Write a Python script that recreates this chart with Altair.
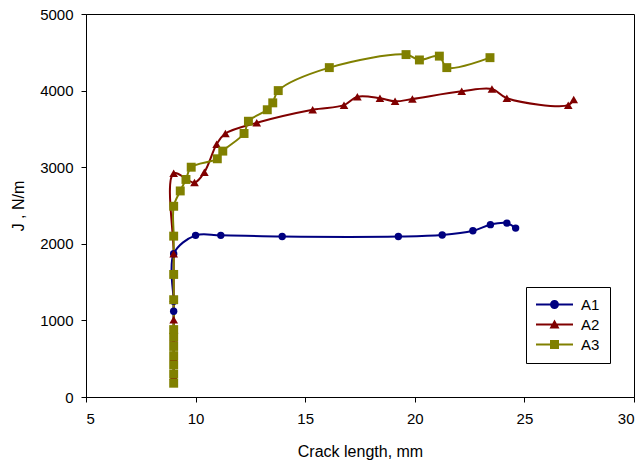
import altair as alt
import pandas as pd

# Crack growth resistance curves, J versus crack length
a1_x = [9.0, 9.0, 9.0, 9.0, 9.0, 10.0, 11.15, 13.95, 19.25, 21.25, 22.65, 23.45, 24.2, 24.6]
a1_y = [180, 880, 1120, 1250, 1870, 2110, 2110, 2095, 2095, 2115, 2170, 2250, 2270, 2205]

a2_x = [9.0, 9.0, 9.0, 9.0, 9.0, 9.0, 9.0, 9.95, 10.4, 10.96, 11.36, 12.79, 15.34, 16.77,
        17.38, 18.41, 19.1, 19.89, 22.14, 23.52, 24.2, 27.0, 27.25]
a2_y = [270, 520, 770, 1010, 1290, 1870, 2920, 2800, 2935, 3300, 3440, 3580, 3750, 3810,
        3920, 3900, 3860, 3890, 3990, 4020, 3900, 3810, 3885]

a3_x = [9.0, 9.0, 9.0, 9.0, 9.0, 9.0, 9.0, 9.0, 9.0, 9.0, 9.0, 9.3, 9.56, 9.8, 10.99, 11.24,
        12.21, 12.41, 13.27, 13.52, 13.77, 16.1, 19.6, 20.21, 21.12, 21.46, 23.43]
a3_y = [180, 300, 420, 540, 660, 780, 880, 1270, 1600, 2100, 2490, 2690, 2840, 3000, 3110, 3210,
        3440, 3600, 3750, 3840, 4000, 4300, 4470, 4400, 4450, 4300, 4430]

names = ["A1", "A2", "A3"]
colors = ["#000080", "#800000", "#808000"]
marker_shapes = ["circle", "triangle-up", "square"]
marker_sizes = [55, 75, 80]

# legend keys: a short line segment with the series marker in the middle
# (unit = half of sqrt(symbolSize), so the segment spans 7.4 units)
key_line = "M-3.7,-0.2H3.7V0.2H-3.7Z "
key_shapes = [
    key_line + "M-0.9,0A0.9,0.9 0 1,1 0.9,0A0.9,0.9 0 1,1 -0.9,0Z",
    key_line + "M0,-1L1,0.8L-1,0.8Z",
    key_line + "M-0.9,-0.9H0.9V0.9H-0.9Z",
]

rows = []
for name, xs, ys in [("A1", a1_x, a1_y), ("A2", a2_x, a2_y), ("A3", a3_x, a3_y)]:
    for i, (xv, yv) in enumerate(zip(xs, ys)):
        rows.append({"series": name, "idx": i, "x": xv, "y": yv})
df = pd.DataFrame(rows)

FONT = "Liberation Sans"

x_enc = alt.X(
    "x:Q",
    scale=alt.Scale(domain=[5, 30], nice=False, zero=False),
    axis=alt.Axis(values=[5, 10, 15, 20, 25, 30], title="Crack length, mm",
                  tickSize=5, labelPadding=9, titlePadding=17),
)
y_enc = alt.Y(
    "y:Q",
    scale=alt.Scale(domain=[0, 5000], nice=False),
    axis=alt.Axis(values=[0, 1000, 2000, 3000, 4000, 5000], format="d", title="J , N/m",
                  tickSize=5, labelPadding=8, titlePadding=13),
)

def color_enc(legend=None):
    if legend is None:
        return alt.Color("series:N", scale=alt.Scale(domain=names, range=colors), legend=None)
    return alt.Color("series:N", scale=alt.Scale(domain=names, range=colors), legend=legend)

base = alt.Chart(df)

lines = base.mark_line(strokeWidth=2, interpolate="catmull-rom").encode(
    x=x_enc, y=y_enc, color=color_enc(), detail="series:N", order="idx:Q"
)

points = base.mark_point(filled=True, opacity=1).encode(
    x=x_enc,
    y=y_enc,
    color=color_enc(),
    shape=alt.Shape("series:N", scale=alt.Scale(domain=names, range=marker_shapes), legend=None),
    size=alt.Size("series:N", scale=alt.Scale(type="ordinal", domain=names, range=marker_sizes), legend=None),
)

legend = alt.Legend(
    title=None, orient="none", legendX=440, legendY=273,
    strokeColor="black", fillColor="white", padding=10,
    symbolSize=100, symbolStrokeWidth=0, symbolOpacity=1, symbolOffset=11,
    labelFont=FONT, labelFontSize=15, labelColor="black", labelOffset=19,
    rowPadding=4,
)

key = base.transform_filter("datum.x < 0").mark_point(filled=True, opacity=1).encode(
    x=x_enc,
    y=y_enc,
    color=color_enc(legend),
    shape=alt.Shape("series:N", scale=alt.Scale(domain=names, range=key_shapes), legend=legend),
)

chart = (
    alt.layer(lines, points, key)
    .resolve_scale(color="independent", shape="independent")
    .properties(
        width=548, height=383,
        autosize=alt.AutoSizeParams(type="none"),
        padding={"left": 86, "top": 14, "right": 10, "bottom": 67},
        background="white",
    )
    .configure_view(stroke="black", strokeWidth=1)
    .configure_axis(
        grid=False, domainColor="black", tickColor="black", labelColor="black",
        titleColor="black", labelFont=FONT, titleFont=FONT, labelFontSize=15,
        titleFontSize=16, titleFontWeight="normal", domainWidth=1, tickWidth=1,
    )
)

chart.save("out.html", embed_options={"renderer": "svg", "actions": False})
